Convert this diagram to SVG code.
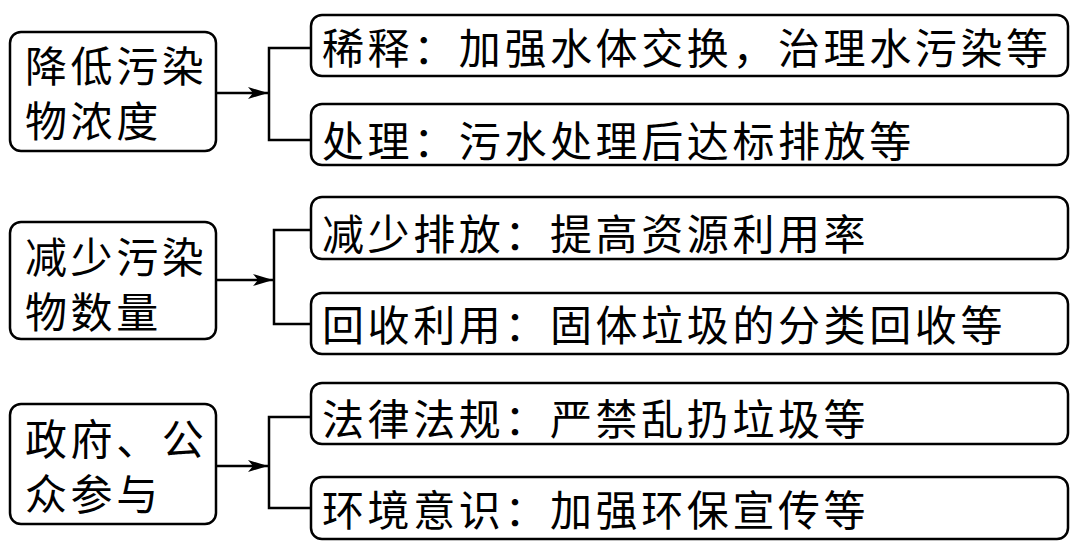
<svg xmlns="http://www.w3.org/2000/svg" width="1080" height="554" viewBox="0 0 1080 554">
<style>
.box{fill:#fff;stroke:#000;stroke-width:2.5}
.t{font-family:"Noto Sans CJK SC","Noto Sans CJK JP",sans-serif;font-size:42px;letter-spacing:3.6px;fill:#000;dominant-baseline:central}
.ln{fill:none;stroke:#000;stroke-width:2.5}
</style>
<defs>
<marker id="ah" markerUnits="userSpaceOnUse" markerWidth="22" markerHeight="14" refX="20" refY="7" orient="auto">
<path d="M0,1 L20,7 L0,13 L5,7 Z" fill="#000"/>
</marker>
</defs>
<rect width="1080" height="554" fill="#fff"/>
<g id="connectors">
<path class="ln" d="M216,93 H268" marker-end="url(#ah)"/>
<path class="ln" d="M311,48 H269 V140 H311"/>
<path class="ln" d="M216,280 H273" marker-end="url(#ah)"/>
<path class="ln" d="M311,230 H274 V324 H311"/>
<path class="ln" d="M216,466 H268" marker-end="url(#ah)"/>
<path class="ln" d="M311,417 H269 V508 H311"/>
</g>
<g id="n1"><rect class="box" x="10" y="32" width="206" height="119" rx="11"/><text class="t" x="25" y="63">降低污染</text><text class="t" x="25" y="118">物浓度</text></g>
<g id="n2"><rect class="box" x="10" y="222" width="206" height="117" rx="11"/><text class="t" x="25" y="254">减少污染</text><text class="t" x="25" y="309">物数量</text></g>
<g id="n3"><rect class="box" x="10" y="404" width="206" height="120" rx="11"/><text class="t" x="25" y="436">政府、公</text><text class="t" x="25" y="491">众参与</text></g>
<g id="n4"><rect class="box" x="311" y="15" width="757" height="61" rx="11"/><text class="t" x="322" y="45">稀释：加强水体交换，治理水污染等</text></g>
<g id="n5"><rect class="box" x="311" y="104" width="757" height="61" rx="11"/><text class="t" x="322" y="138">处理：污水处理后达标排放等</text></g>
<g id="n6"><rect class="box" x="311" y="197" width="757" height="62" rx="11"/><text class="t" x="322" y="231">减少排放：提高资源利用率</text></g>
<g id="n7"><rect class="box" x="311" y="293" width="757" height="61" rx="11"/><text class="t" x="322" y="322">回收利用：固体垃圾的分类回收等</text></g>
<g id="n8"><rect class="box" x="311" y="383" width="757" height="61" rx="11"/><text class="t" x="322" y="416">法律法规：严禁乱扔垃圾等</text></g>
<g id="n9"><rect class="box" x="311" y="477" width="757" height="62" rx="11"/><text class="t" x="322" y="507">环境意识：加强环保宣传等</text></g>
</svg>
